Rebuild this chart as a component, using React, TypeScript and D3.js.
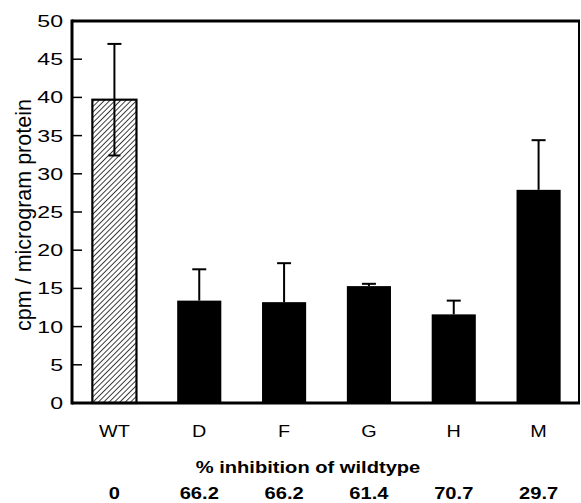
import React from 'react';
import * as d3 from 'd3';

const categories = ['WT', 'D', 'F', 'G', 'H', 'M'];
const means = [39.7, 13.4, 13.2, 15.3, 11.6, 27.9];
const errors = [7.3, 4.1, 5.1, 0.3, 1.8, 6.5];
const inhibition = ['0', '66.2', '66.2', '61.4', '70.7', '29.7'];
const yTicks = [0, 5, 10, 15, 20, 25, 30, 35, 40, 45, 50];

const W = 581;
const H = 503;
const left = 72;
const right = 580;
const top = 21;
const bottom = 403;
const font = 'Liberation Sans, Arial, Helvetica, sans-serif';

// the scanned type is wider than Liberation Sans, so stretch horizontally
const Label = ({ x, y, sx, anchor, size = 16.5, bold = false, children }: any) => (
  <text transform={`translate(${x},${y}) scale(${sx},1)`} textAnchor={anchor} fontSize={size}
    fontWeight={bold ? 'bold' : 'normal'}>
    {children}
  </text>
);

const App = () => {
  const x = d3.scaleBand<string>()
    .domain(categories)
    .range([left, right + 1])
    .paddingInner(0.48)
    .paddingOuter(0.24);
  const y = d3.scaleLinear().domain([0, 50]).range([bottom, top]);

  const bars = categories.map((c, i) => ({ c, mean: means[i], err: errors[i], inh: inhibition[i] }));

  return (
    <svg width={W} height={H} style={{ position: 'absolute', left: 0, top: 0, background: '#fff' }}
      fontFamily={font}>
      <defs>
        <pattern id="hatch" width="3.8" height="3.8" patternUnits="userSpaceOnUse" patternTransform="rotate(45)">
          <rect width="3.8" height="3.8" fill="#fff" />
          <line x1="0" y1="0" x2="0" y2="3.8" stroke="#000" strokeWidth="1.5" />
        </pattern>
      </defs>

      {/* bars */}
      {bars.map((d, i) => {
        const x0 = x(d.c)!;
        const bw = x.bandwidth();
        const cx = x0 + bw / 2;
        const hatched = i === 0;
        return (
          <g key={d.c}>
            <rect x={x0} y={y(d.mean)} width={bw} height={y(0) - y(d.mean)}
              fill={hatched ? 'url(#hatch)' : '#000'} stroke="#000" strokeWidth={hatched ? 2.2 : 0} />
            <line x1={cx} x2={cx} y1={y(hatched ? d.mean - d.err : d.mean)} y2={y(d.mean + d.err)}
              stroke="#000" strokeWidth={2} />
            <line x1={cx - 7} x2={cx + 7} y1={y(d.mean + d.err)} y2={y(d.mean + d.err)}
              stroke="#000" strokeWidth={2} />
            {hatched && (
              <line x1={cx - 6} x2={cx + 6} y1={y(d.mean - d.err)} y2={y(d.mean - d.err)}
                stroke="#000" strokeWidth={2} />
            )}
            <Label x={cx} y={437} sx={1.2} anchor="middle">{d.c}</Label>
            <Label x={cx} y={499} sx={1.22} anchor="middle" bold>{d.inh}</Label>
          </g>
        );
      })}

      {/* y ticks */}
      {yTicks.map(t => (
        <g key={t}>
          <line x1={left} x2={left + 10} y1={y(t)} y2={y(t)} stroke="#000" strokeWidth={1.5} />
          <Label x={63} y={y(t) + 6} sx={1.4} anchor="end">{t}</Label>
        </g>
      ))}

      {/* frame */}
      <line x1={left} x2={right} y1={top} y2={top} stroke="#000" strokeWidth={3} />
      <line x1={left} x2={right} y1={bottom} y2={bottom} stroke="#000" strokeWidth={3} />
      <line x1={left} x2={left} y1={top - 1.5} y2={bottom + 1.5} stroke="#000" strokeWidth={3} />
      <line x1={right - 1} x2={right - 1} y1={top} y2={bottom} stroke="#000" strokeWidth={2} />

      <text transform={`translate(31,215) rotate(-90)`} textAnchor="middle" fontSize={21.5}>
        cpm / microgram protein
      </text>
      <Label x={308} y={473} sx={1.22} anchor="middle" bold>% inhibition of wildtype</Label>
    </svg>
  );
};

export default App;
